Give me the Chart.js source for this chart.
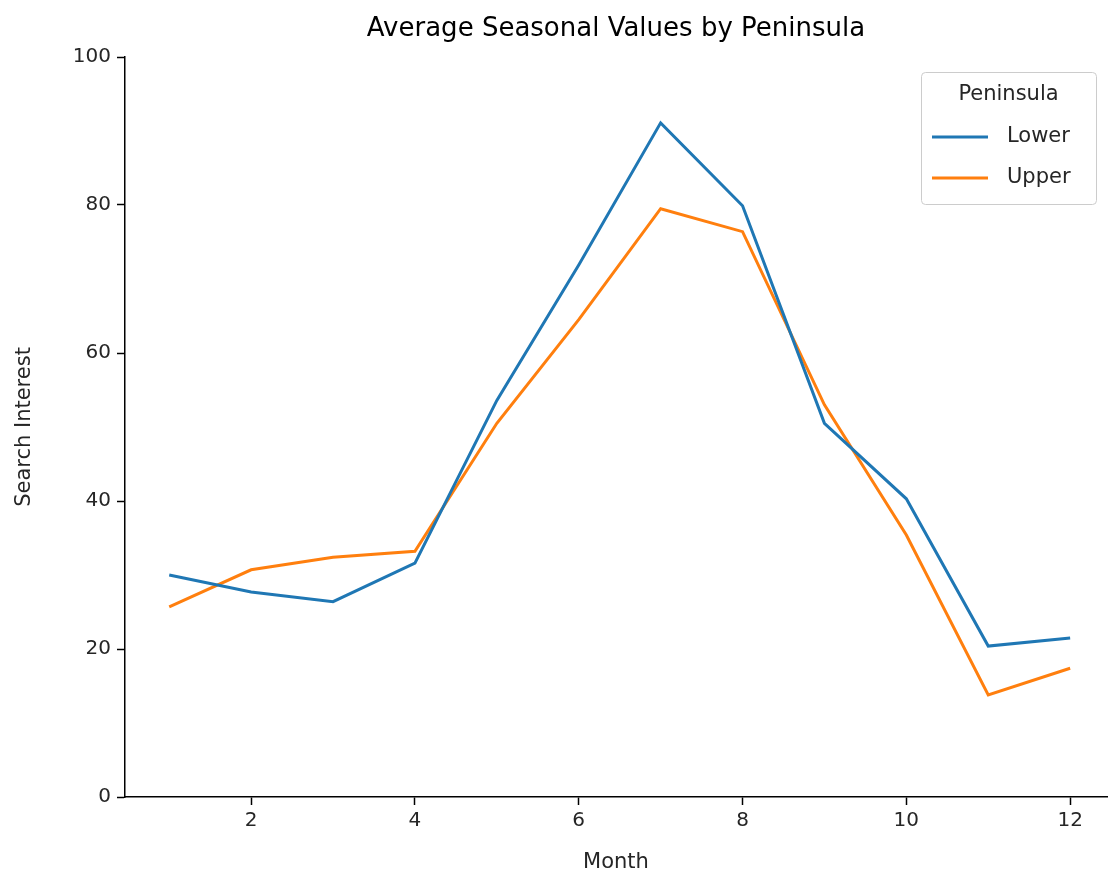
<!DOCTYPE html>
<html lang="en">
<head>
<meta charset="UTF-8">
<title>Average Seasonal Values by Peninsula</title>
<script src="https://cdn.jsdelivr.net/npm/chart.js"></script>
<style>
  body { margin: 0; background: #fff; }
  #wrap { width: 1108px; height: 879px; }
</style>
</head>
<body>
<div id="wrap"><canvas id="chart"></canvas></div>
<script>
  const months = [1, 2, 3, 4, 5, 6, 7, 8, 9, 10, 11, 12];
  const lowerValues = [30.0, 27.7, 26.4, 31.6, 53.6, 71.9, 91.1, 79.9, 50.5, 40.3, 20.4, 21.5];
  const upperValues = [25.7, 30.7, 32.4, 33.2, 50.5, 64.5, 79.5, 76.4, 53.0, 35.4, 13.8, 17.4];
  const xTicks = [2, 4, 6, 8, 10, 12];
  const yTicks = [0, 20, 40, 60, 80, 100];

  const FONT = 'DejaVu Sans';
  Chart.defaults.font.family = FONT;
  Chart.defaults.color = '#262626';

  function pts(values) {
    return months.map((m, i) => ({ x: m, y: values[i] }));
  }

  // title and boxed legend drawn on the canvas
  const decor = {
    id: 'decor',
    afterDraw(chart) {
      const ctx = chart.ctx;
      ctx.save();
      ctx.fillStyle = '#000';
      ctx.font = '26px ' + FONT;
      ctx.textAlign = 'center';
      ctx.textBaseline = 'middle';
      ctx.fillText('Average Seasonal Values by Peninsula', (chart.chartArea.left + chart.chartArea.right) / 2, 29);

      const bx = 921, by = 72, bw = 175, bh = 132;
      ctx.strokeStyle = '#cccccc';
      ctx.lineWidth = 1;
      ctx.fillStyle = 'rgba(255,255,255,0.8)';
      ctx.beginPath();
      ctx.roundRect(bx + 0.5, by + 0.5, bw, bh, 4);
      ctx.fill();
      ctx.stroke();
      ctx.fillStyle = '#262626';
      ctx.font = '21px ' + FONT;
      ctx.fillText('Peninsula', bx + bw / 2, 95);
      ctx.textAlign = 'left';
      chart.data.datasets.forEach((ds, i) => {
        const y = 137 + i * 41;
        ctx.strokeStyle = ds.borderColor;
        ctx.lineWidth = 3;
        ctx.beginPath();
        ctx.moveTo(932, y);
        ctx.lineTo(988, y);
        ctx.stroke();
        ctx.fillText(ds.label, 1007, y);
      });
      ctx.restore();
    }
  };

  new Chart(document.getElementById('chart'), {
    type: 'line',
    data: {
      datasets: [
        { label: 'Lower', data: pts(lowerValues), borderColor: '#1f77b4', borderWidth: 3, pointRadius: 0, tension: 0 },
        { label: 'Upper', data: pts(upperValues), borderColor: '#ff7f0e', borderWidth: 3, pointRadius: 0, tension: 0 }
      ]
    },
    options: {
      responsive: true,
      maintainAspectRatio: false,
      animation: false,
      layout: { padding: { top: 57, right: 1, left: 8, bottom: 0 } },
      plugins: { legend: { display: false }, tooltip: { enabled: false } },
      scales: {
        x: {
          type: 'linear', min: 0.46, max: 12.45,
          afterBuildTicks(axis) { axis.ticks = xTicks.map(v => ({ value: v })); },
          afterFit(axis) { axis.height = 82; },
          grid: { display: true, drawOnChartArea: false, drawTicks: true, tickLength: 8, tickColor: '#000', tickWidth: 1.5 },
          border: { color: '#000', width: 1.5 },
          ticks: { font: { size: 20 }, color: '#262626', padding: 4 },
          title: { display: true, text: 'Month', font: { size: 21 }, color: '#262626', padding: { top: 6 } }
        },
        y: {
          min: 0, max: 100,
          afterBuildTicks(axis) { axis.ticks = yTicks.map(v => ({ value: v })); },
          afterFit(axis) { axis.width = 117; },
          grid: { display: true, drawOnChartArea: false, drawTicks: true, tickLength: 8, tickColor: '#000', tickWidth: 1.5 },
          border: { color: '#000', width: 1.5 },
          ticks: { font: { size: 20 }, color: '#262626', padding: 6 },
          title: { display: true, text: 'Search Interest', font: { size: 21 }, color: '#262626', padding: { bottom: 8 } }
        }
      }
    },
    plugins: [decor]
  });
</script>
</body>
</html>
